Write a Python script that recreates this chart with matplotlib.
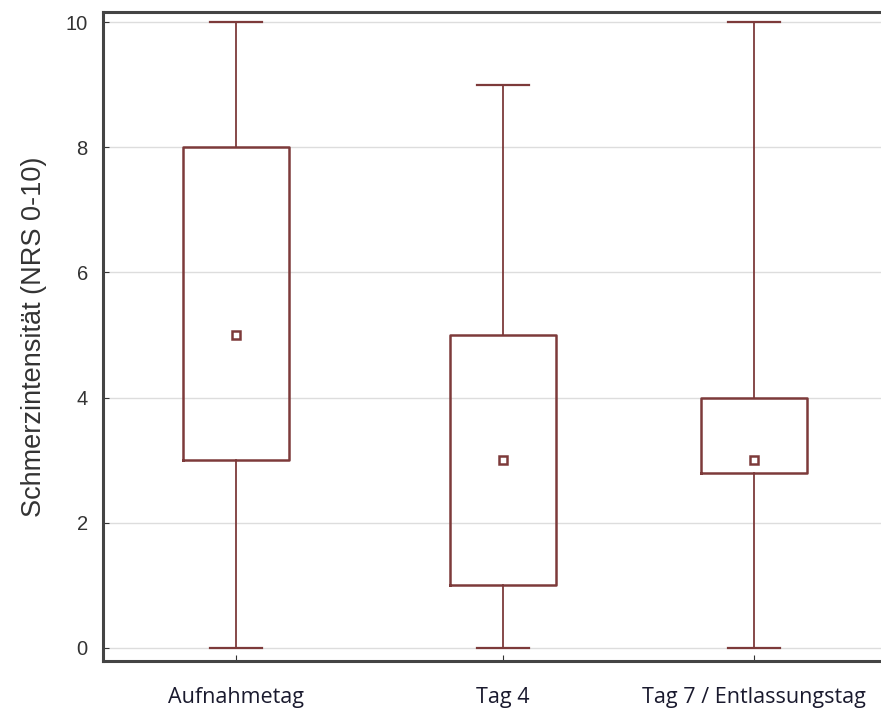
import matplotlib
matplotlib.use('Agg')

import matplotlib.pyplot as plt

# Pain intensity per day (NRS 0-10)
categories = ['Aufnahmetag', 'Tag 4', 'Tag 7 / Entlassungstag']
whisker_low = [0, 0, 0]
q1 = [3, 1, 2.8]
center = [5, 3, 3]
q3 = [8, 5, 4]
whisker_high = [10, 9, 10]

line_color = '#7d3a3a'
text_color = '#333333'

fig = plt.figure(figsize=(8.81, 7.2), dpi=100)
ax = fig.add_axes([0.117, 0.082, 0.883, 0.901])

stats = []
for i in range(len(categories)):
    stats.append({
        'label': categories[i],
        'whislo': whisker_low[i],
        'q1': q1[i],
        'med': center[i],
        'mean': center[i],
        'q3': q3[i],
        'whishi': whisker_high[i],
        'fliers': [],
    })

# the middle box sits slightly right of the midpoint in the original
positions = [1, 2.03, 3]
ax.bxp(stats, positions=positions, widths=0.41, showmeans=True, showfliers=False,
       boxprops=dict(color=line_color, linewidth=1.8),
       whiskerprops=dict(color=line_color, linewidth=1.3),
       capprops=dict(color=line_color, linewidth=1.6),
       capwidths=0.2,
       medianprops=dict(visible=False),
       meanprops=dict(marker='s', markersize=6, markerfacecolor='white',
                      markeredgecolor=line_color, markeredgewidth=1.8))

ax.set_xlim(0.486, 3.49)
ax.set_ylim(-0.21, 10.16)
ax.set_yticks([0, 2, 4, 6, 8, 10])
ax.set_xticks(positions)
ax.set_xticklabels(categories, family='Open Sans', fontsize=15.5, color='#1a1a2e')
ax.tick_params(axis='x', direction='in', length=4, pad=19, color='#333333')
ax.tick_params(axis='y', direction='in', length=4, pad=11, labelsize=14.5,
               labelcolor=text_color, color='#333333')
for lab in ax.get_yticklabels():
    lab.set_family('Liberation Sans')

ax.yaxis.grid(True, color='#dddddd', linewidth=1)
ax.set_axisbelow(True)

ax.set_ylabel('Schmerzintensität (NRS 0-10)', family='Liberation Sans', fontsize=19.5,
              color=text_color, labelpad=13)

for side in ['left', 'bottom', 'top']:
    ax.spines[side].set_color('#444444')
    ax.spines[side].set_linewidth(2.2)
ax.spines['right'].set_visible(False)

plt.savefig('out.png', dpi=100)
plt.close()
